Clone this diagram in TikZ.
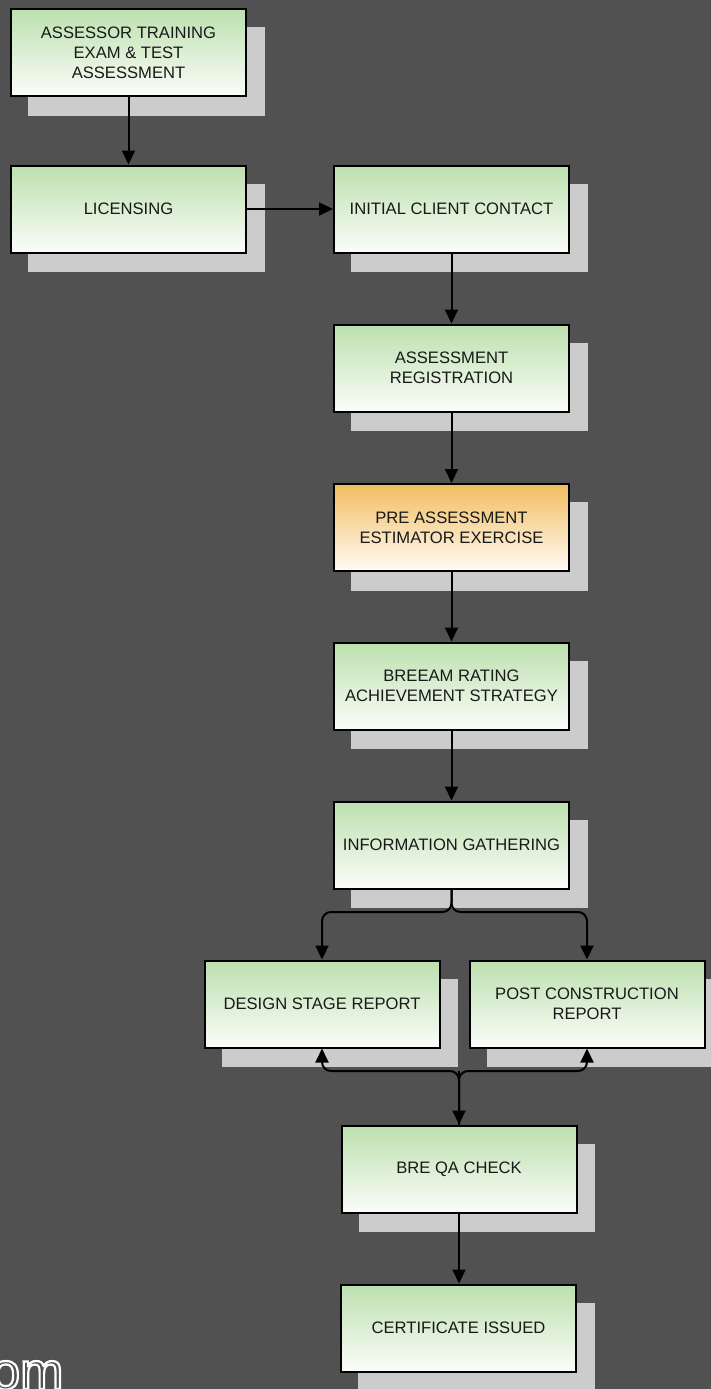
\documentclass[tikz,border=0pt]{standalone}
\usepackage{fontspec}
\setmainfont{Liberation Sans}
\usetikzlibrary{arrows.meta,shadows}
\definecolor{bg}{RGB}{81,81,81}
\definecolor{shade}{RGB}{204,204,204}
\definecolor{gtop}{RGB}{188,224,174}
\definecolor{gbot}{RGB}{251,253,250}
\definecolor{otop}{RGB}{242,189,96}
\definecolor{obot}{RGB}{255,251,245}
\begin{document}
\begin{tikzpicture}[x=1pt,y=-1pt,
  box/.style={draw=black, line width=2pt, minimum width=235pt, minimum height=87pt,
    inner sep=0pt, align=center, text=black!90, font=\fontsize{16.6}{20}\selectfont,
    top color=gtop, bottom color=gbot,
    drop shadow={shadow xshift=18pt, shadow yshift=-19pt, opacity=1, fill=shade, draw=shade, line width=1.5pt}},
  obox/.style={box, top color=otop, bottom color=obot},
  arr/.style={line width=2pt, -{Triangle[length=14pt,width=13pt]}},
  omtext/.style={anchor=base west, inner sep=0pt, font=\fontsize{52}{52}\selectfont}]
\useasboundingbox (0,0) rectangle (711,1389);
\clip (0,0) rectangle (711,1389);
\fill[bg] (0,0) rectangle (711,1389);

% watermark fragment (outlined letters)
\node[omtext] (om) at (-9,1389)
  {\special{pdf:literal direct 1 1 1 RG 2.2 w 1 Tr}om\special{pdf:literal direct 0 Tr 1 w}};

\node[box] (train) at (128.5,52.5) {ASSESSOR TRAINING\\EXAM \& TEST\\ASSESSMENT};
\node[box] (lic) at (128.5,209) {LICENSING};
\node[box] (init) at (451.5,209) {INITIAL CLIENT CONTACT};
\node[box] (reg) at (451.5,368) {ASSESSMENT\\REGISTRATION};
\node[obox] (pre) at (451.5,527.5) {PRE ASSESSMENT\\ESTIMATOR EXERCISE};
\node[box] (breeam) at (451.5,686) {BREEAM RATING\\ACHIEVEMENT STRATEGY};
\node[box] (info) at (451.5,845) {INFORMATION GATHERING};
\node[box] (design) at (322,1004) {DESIGN STAGE REPORT};
\node[box] (post) at (587,1004) {POST CONSTRUCTION\\REPORT};
\node[box] (qa) at (459,1169) {BRE QA CHECK};
\node[box] (cert) at (458.5,1328) {CERTIFICATE ISSUED};

\draw[arr] (train.south) -- (lic.north);
\draw[arr] (lic.east) -- (init.west);
\draw[arr] (init.south) -- (reg.north);
\draw[arr] (reg.south) -- (pre.north);
\draw[arr] (pre.south) -- (breeam.north);
\draw[arr] (breeam.south) -- (info.north);

\coordinate (split) at (451.5,912);
\draw[arr, rounded corners=9pt] (info.south) -- (split) -| (design.north);
\draw[arr, rounded corners=9pt] (info.south) -- (split) -| (post.north);

\coordinate (merge) at (459,1071);
\draw[arr, rounded corners=9pt] (qa.north) -- (merge) -| (design.south);
\draw[arr, rounded corners=9pt] (qa.north) -- (merge) -| (post.south);
\draw[arr] (merge) -- (qa.north);
\draw[arr] (qa.south) -- (qa.south |- cert.north);
\end{tikzpicture}
\end{document}
